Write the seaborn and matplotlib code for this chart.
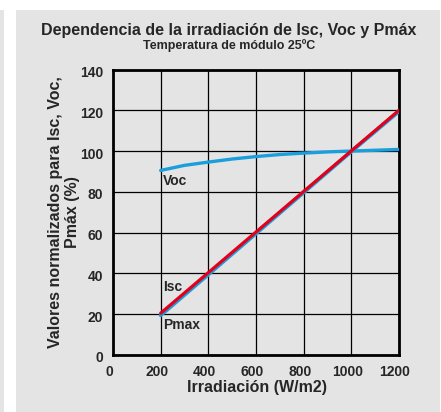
import numpy as np
import pandas as pd
import matplotlib
matplotlib.use("Agg")
import matplotlib.pyplot as plt
import matplotlib.transforms as mtransforms
from matplotlib.patches import Rectangle
import seaborn as sns

# Data
irradiance = [200, 400, 600, 800, 1000, 1200]
isc = [20.5, 40.4, 60.3, 80.2, 100.1, 120.0]
pmax = [19.5, 39.5, 59.6, 79.7, 99.8, 119.5]
voc_x = [200, 300, 400, 500, 600, 700, 800, 900, 1000, 1100, 1200]
voc = [90.5, 93.0, 94.6, 96.1, 97.3, 98.3, 99.0, 99.6, 100.0, 100.4, 100.8]
series_labels = ["Voc", "Isc", "Pmax"]
label_pos_y = [85.3, 33.3, 14.7]
x_ticks = [0, 200, 400, 600, 800, 1000, 1200]
y_ticks = [0, 20, 40, 60, 80, 100, 120, 140]

df_lin = pd.DataFrame({"x": irradiance * 2,
                       "y": isc + pmax,
                       "s": ["Isc"] * len(irradiance) + ["Pmax"] * len(irradiance)})
df_voc = pd.DataFrame({"x": voc_x, "y": voc})

sns.set_style("white")
plt.rcParams['font.family'] = ['Liberation Sans', 'DejaVu Sans']

W, H = 441, 412
fig = plt.figure(figsize=(W / 100, H / 100), dpi=100, facecolor="white")
bg = "#e3e4e3"
fig.patches.append(Rectangle((16 / W, 0), (440 - 16) / W, (H - 10) / H,
                             transform=fig.transFigure, facecolor=bg, edgecolor="none", zorder=-10))
fig.patches.append(Rectangle((0, 0), 4 / W, (H - 10) / H,
                             transform=fig.transFigure, facecolor=bg, edgecolor="none", zorder=-10))

ax = fig.add_axes([113 / W, 1 - 355 / H, (399 - 113) / W, (355 - 69.5) / H])
ax.set_facecolor(bg)

sns.lineplot(data=df_lin[df_lin.s == "Pmax"], x="x", y="y", ax=ax, color="#1a9fdc",
             linewidth=2.8, legend=False, zorder=3)
sns.lineplot(data=df_lin[df_lin.s == "Isc"], x="x", y="y", ax=ax, color="#e2001a",
             linewidth=2.3, legend=False, zorder=4)
sns.lineplot(data=df_voc, x="x", y="y", ax=ax, color="#1a9fdc",
             linewidth=2.4, legend=False, zorder=3)

ax.set_xlim(0, 1200)
ax.set_ylim(0, 140)
ax.set_xticks(x_ticks)
ax.set_yticks(y_ticks)
ax.grid(True, color="black", linewidth=0.9)
ax.set_axisbelow(True)
for sp in ax.spines.values():
    sp.set_visible(True)
    sp.set_color("black")
    sp.set_linewidth(2.0)

ax.tick_params(axis="both", length=0, labelsize=10)
ax.tick_params(axis="x", pad=7)
ax.tick_params(axis="y", pad=7)
for lab in ax.get_xticklabels():
    lab.set_fontweight("bold")
    lab.set_transform(lab.get_transform() + mtransforms.ScaledTranslation(-4 / 100, 0, fig.dpi_scale_trans))
for lab in ax.get_yticklabels():
    lab.set_fontweight("bold")
    lab.set_transform(lab.get_transform() + mtransforms.ScaledTranslation(0, -2 / 100, fig.dpi_scale_trans))

ax.set_xlabel("Irradiación (W/m2)", fontsize=11.5, fontweight="bold")
ax.set_ylabel("Valores normalizados para Isc, Voc,\nPmáx (%)", fontsize=11.5,
              fontweight="bold", linespacing=1.15)
ax.xaxis.set_label_coords((257 - 113) / 286, (355 - 380) / 285.5)
ax.yaxis.set_label_coords((80 - 113) / 286, 0.5)

for t, yv in zip(series_labels, label_pos_y):
    ax.text(210, yv, t, fontsize=10, fontweight="bold", ha="left", va="center")

fig.text(229 / W, 1 - 35 / H, "Dependencia de la irradiación de Isc, Voc y Pmáx",
         ha="center", va="baseline", fontsize=11.5, fontweight="bold")
fig.text(229 / W, 1 - 48.5 / H, "Temperatura de módulo 25ºC",
         ha="center", va="baseline", fontsize=9.0, fontweight="bold")

fig.savefig("out.png", dpi=100, facecolor="white")
